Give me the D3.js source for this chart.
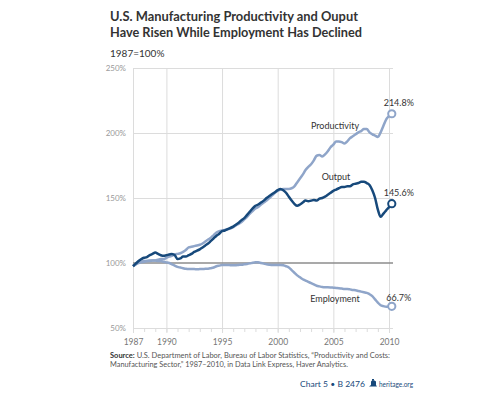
<!DOCTYPE html>
<html>
<head>
<meta charset="utf-8">
<script src="https://cdn.jsdelivr.net/npm/d3@7"></script>
<style>
  body { margin:0; background:#fff; }
  svg { display:block; }
</style>
</head>
<body>
<div id="chart"></div>
<script>
// ---- data (1987=100, quarterly, 1987Q1 .. 2010Q2) ----
const years = d3.range(1987, 2011);
const quarters = years.flatMap(y => ["Q1","Q2","Q3","Q4"].map(q => y + q)).slice(0, 94);

const productivity = [
  97.7, 99, 100.5, 101,      101.5, 101.5, 102, 102,     102, 102.5, 103, 103,
  104, 105, 105.5, 106.5,    107, 107.5, 108.5, 110,     112, 112.5, 113, 113.5,
  114, 115, 116.5, 118,      119.5, 121.5, 123.5, 124.5, 125, 125.5, 126, 126.5,
  127.5, 129, 130, 131.5,    133.5, 135.5, 138, 140,     142, 143, 145, 146.5,
  148, 150, 152, 154,        155.5, 156.5, 157, 157,     157, 157.5, 159, 162,
  165, 168, 171.5, 174,      176, 179, 182.5, 183,       182, 183.5, 186, 189,
  191, 193.5, 193.5, 193,    192, 193.5, 196, 197.5,     199, 200.5, 201.5, 203,
  203, 200.5, 199, 198,      197, 200.5, 205.5, 210.5,   213, 214.8
];
const output = [
  97.5, 99.5, 101.5, 103,    104, 104.5, 106, 107,       108, 107, 106, 105.5,
  106, 106.5, 107, 106,      103, 103.5, 105, 105,       106, 107, 108.5, 109.5,
  110.5, 112, 113.5, 115,    117, 119, 121, 122.5,       124.5, 125, 126, 127,
  128, 129.5, 131, 133,      134.5, 137, 139.5, 142,     144, 145, 146.5, 148,
  150, 151.5, 153, 154.5,    156, 157, 156, 154,         151, 148, 145.5, 144,
  145, 146.5, 148, 147.5,    148, 148.5, 148, 149.5,     150, 151, 152.5, 154,
  155.5, 156.5, 157.5, 158.5, 158.5, 159, 159, 160.5,    161, 161.5, 162.5, 162.5,
  161.5, 160, 156, 150,      141, 135.5, 138, 140.5,     143, 145.6
];
const employment = [
  97.5, 99, 100, 100.5,      101, 101.5, 101.5, 102,     102, 101.5, 101.5, 101,
  100.5, 100, 99, 98,        97, 96.5, 96, 95.5,         95.3, 95.3, 95.3, 95.2,
  95.3, 95.4, 95.5, 95.6,    96, 96.5, 97.5, 98,         98.5, 98.5, 98.5, 98.3,
  98.2, 98.3, 98.5, 98.7,    99, 99.3, 99.7, 100.2,      100.5, 100.5, 100, 99.5,
  99, 98.7, 98.5, 98.5,      98.5, 98.5, 98.2, 97.5,     96.5, 94.5, 92.5, 90.5,
  89, 87.5, 86.5, 85.5,      84.5, 83.5, 82.5, 82,       81.5, 81.3, 81.3, 81.2,
  81, 80.8, 80.6, 80.3,      80, 80, 79.7, 79.3,         79, 78.5, 78, 77.5,
  77, 76, 74.5, 72,          69.5, 67.5, 66.8, 66.3,     66.3, 66.7
];

const xTicks = [1987, 1990, 1995, 2000, 2005, 2010];
const yTicks = [50, 100, 150, 200, 250];

const endLabels = ["214.8%", "145.6%", "66.7%"];
const seriesNames = ["Productivity", "Output", "Employment"];

// ---- layout ----
const W = 504, H = 400;
const plot = {left:133, right:389, top:68, bottom:328};
const lightBlue = "#8fa5c9", navy = "#17497b", grid = "#dcdcdc", txt = "#333";

const svg = d3.select("#chart").append("svg")
  .attr("width", W).attr("height", H)
  .style("font-family", "Lato, 'Open Sans', sans-serif");

const toYear = q => +q.slice(0, 4) + (+q.slice(5) - 1) / 4;

const x = d3.scaleLinear().domain([1987, 2010]).range([plot.left, plot.right]);
const y = d3.scaleLinear().domain([50, 250]).range([plot.bottom, plot.top]);

/* ---------------- TITLE ---------------- */
const title = ["U.S. Manufacturing Productivity and Ouput",
               "Have Risen While Employment Has Declined"];
const titleW = [248, 252];
title.forEach((t, i) => {
  svg.append("text")
    .attr("x", 110).attr("y", 21 + i * 15.5)
    .attr("textLength", titleW[i]).attr("lengthAdjust", "spacingAndGlyphs")
    .style("font-size", "13px").style("font-weight", 700).style("fill", txt)
    .text(t);
});
svg.append("text")
  .attr("x", 110).attr("y", 57)
  .style("font-size", "10px").style("fill", txt)
  .text("1987=100%");

/* ---------------- GRID & AXES ---------------- */
const g = svg.append("g");

// horizontal grid
g.append("g")
  .attr("transform", `translate(${plot.left},0)`)
  .call(d3.axisLeft(y).tickValues(yTicks.filter(v => v !== 100))
    .tickSize(-(plot.right - plot.left + 4)).tickFormat(""))
  .call(s => s.select(".domain").remove())
  .selectAll("line").attr("stroke", grid);

// vertical grid (major years)
g.append("g")
  .attr("transform", `translate(0,${plot.bottom + 5})`)
  .call(d3.axisBottom(x).tickValues(xTicks)
    .tickSize(-(plot.bottom + 5 - plot.top)).tickFormat(""))
  .call(s => s.select(".domain").remove())
  .selectAll("line").attr("stroke", grid);

// minor year ticks
g.append("g")
  .attr("transform", `translate(0,${plot.bottom})`)
  .call(d3.axisBottom(x).tickValues(years).tickSize(4).tickFormat(""))
  .call(s => s.select(".domain").remove())
  .selectAll("line").attr("stroke", grid);

// y labels
g.append("g")
  .attr("transform", `translate(${plot.left - 4},0)`)
  .call(d3.axisLeft(y).tickValues(yTicks).tickSize(0).tickFormat(d => d + "%"))
  .call(s => s.select(".domain").remove())
  .selectAll("text")
  .style("font-size", "8px").style("fill", "#999").style("font-family", "Lato, sans-serif");

// x labels
g.append("g")
  .attr("transform", `translate(0,${plot.bottom + 8})`)
  .call(d3.axisBottom(x).tickValues(xTicks).tickSize(0).tickFormat(d3.format("d")))
  .call(s => s.select(".domain").remove())
  .selectAll("text")
  .style("font-size", "8.5px").style("fill", "#777").style("font-family", "Lato, sans-serif");

// 100% reference line
g.append("line")
  .attr("x1", plot.left).attr("x2", plot.right + 4)
  .attr("y1", y(100)).attr("y2", y(100))
  .attr("stroke", "#8c8c8c").attr("stroke-width", 1.3);

/* ---------------- LINES ---------------- */
const line = d3.line()
  .x((d, i) => x(toYear(quarters[i])))
  .y(d => y(d))
  .curve(d3.curveMonotoneX);

const series = [
  {vals: employment, color: lightBlue},
  {vals: productivity, color: lightBlue},
  {vals: output, color: navy}
];
series.forEach(s => {
  svg.append("path").datum(s.vals)
    .attr("fill", "none").attr("stroke", s.color)
    .attr("stroke-width", 2.5).attr("stroke-linejoin", "round")
    .attr("d", line);
});
series.forEach(s => {
  const i = s.vals.length - 1;
  svg.append("circle")
    .attr("cx", x(toYear(quarters[i]))).attr("cy", y(s.vals[i]))
    .attr("r", 3.6).attr("fill", "#fff")
    .attr("stroke", s.color).attr("stroke-width", 2);
});

/* ---------------- LABELS ---------------- */
const lbl = (tx, ty, t, anchor) => svg.append("text")
  .attr("x", tx).attr("y", ty).attr("text-anchor", anchor || "start")
  .style("font-size", "9px").style("fill", txt).text(t);

lbl(335, 129, seriesNames[0], "middle");
lbl(336, 180, seriesNames[1], "middle");
lbl(335, 302, seriesNames[2], "middle");

const last = quarters.length - 1;
const ex = x(toYear(quarters[last]));
lbl(ex + 7, y(productivity[last]) - 8, endLabels[0], "middle");
lbl(ex + 7, y(output[last]) - 8, endLabels[1], "middle");
lbl(ex + 7, y(employment[last]) - 5, endLabels[2], "middle");

/* ---------------- SOURCE / FOOTER ---------------- */
const src = svg.append("text").attr("x", 110).attr("y", 358)
  .attr("textLength", 280).attr("lengthAdjust", "spacingAndGlyphs")
  .style("font-size", "7.3px").style("fill", "#555");
src.append("tspan").style("font-weight", 700).style("fill", "#333").text("Source:");
src.append("tspan").text(" U.S. Department of Labor, Bureau of Labor Statistics, \u201cProductivity and Costs:");
svg.append("text").attr("x", 110).attr("y", 367)
  .attr("textLength", 238).attr("lengthAdjust", "spacingAndGlyphs")
  .style("font-size", "7.3px").style("fill", "#555")
  .text("Manufacturing Sector,\u201d 1987\u20132010, in Data Link Express, Haver Analytics.");

svg.append("text").attr("x", 300).attr("y", 387)
  .attr("textLength", 65).attr("lengthAdjust", "spacingAndGlyphs")
  .style("font-size", "8px").style("fill", navy)
  .text("Chart 5 \u2022 B 2476");
// small bell mark
svg.append("path")
  .attr("d", "M369,386.5 h8 l-1,-1.5 v-3.5 q-3,-2.5 -5,0 v3.5 z M372,379 h2 v1.5 h-2 z")
  .attr("fill", navy);
svg.append("text").attr("x", 379).attr("y", 387)
  .attr("textLength", 34).attr("lengthAdjust", "spacingAndGlyphs")
  .style("font-size", "8px").style("fill", navy)
  .text("heritage.org");
</script>
</body>
</html>
